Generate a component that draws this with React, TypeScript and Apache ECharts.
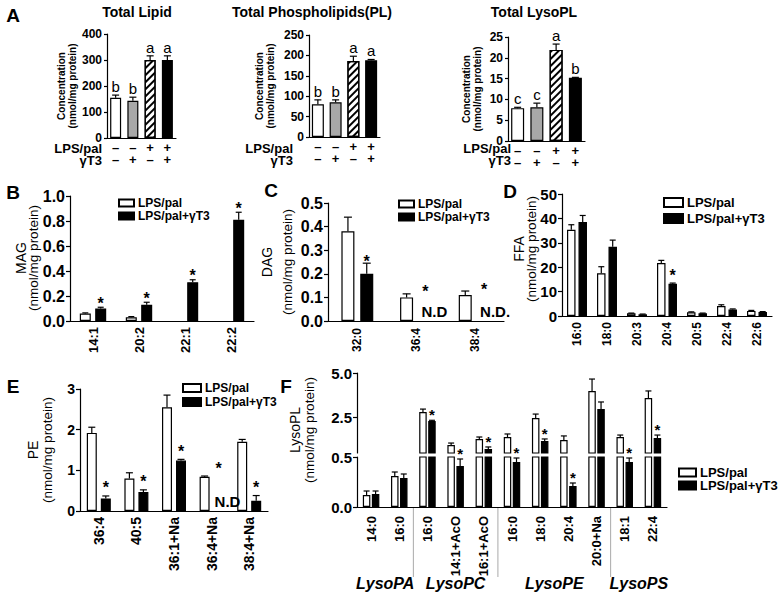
import React, { useEffect, useRef } from 'react';
import * as echarts from 'echarts';

const FONT = '"Liberation Sans", Arial, Helvetica, sans-serif';

// ---------------- Panel A ----------------
const aRowLabels = ['LPS/pal', 'γT3'];
const aLpsRow = ['–', '–', '+', '+'];
const aT3Row = ['–', '+', '–', '+'];
const aTitles = ['Total Lipid', 'Total Phospholipids(PL)', 'Total LysoPL'];
const aGroups = ['ctrl', 'γT3', 'LPS/pal', 'LPS/pal+γT3'];
const aLipid = [155, 143, 300, 300];
const aLipidErr = [165, 157, 316, 316];
const aLipidLetters = ['b', 'b', 'a', 'a'];
const aPL = [80, 85, 186, 188];
const aPLErr = [91, 91, 198, 190];
const aPLLetters = ['b', 'b', 'a', 'a'];
const aLyso = [7.9, 8.1, 21.9, 15.2];
const aLysoErr = [8.1, 9.1, 23.3, 15.3];
const aLysoLetters = ['c', 'c', 'a', 'b'];
const aYMax = [400, 250, 25];
const aYStep = [100, 50, 5];

const legendNames = ['LPS/pal', 'LPS/pal+γT3'];
const unitText = '(nmol/mg protein)';

// ---------------- Panel B (MAG) ----------------
const bCats = ['14:1', '20:2', '22:1', '22:2'];
const bPal = [0.06, 0.03, null, null];
const bPalErr = [0.065, 0.035, null, null];
const bT3 = [0.1, 0.13, 0.31, 0.81];
const bT3Err = [0.11, 0.15, 0.33, 0.87];
const bStar = [true, true, true, true];

// ---------------- Panel C (DAG) ----------------
const cCats = ['32:0', '36:4', '38:4'];
const cPal = [0.38, 0.1, 0.11];
const cPalErr = [0.44, 0.115, 0.127];
const cT3 = [0.2, null, null];
const cT3Err = [0.245, null, null];
const cStar = [true, true, true];
const cND = [null, 'N.D', 'N.D.'];

// ---------------- Panel D (FFA) ----------------
const dCats = ['16:0', '18:0', '20:3', '20:4', '20:5', '22:4', '22:6'];
const dPal = [35.3, 17.5, 1.1, 21.7, 1.5, 4.1, 2.1];
const dPalErr = [37.4, 20.2, 1.2, 22.8, 1.7, 4.6, 2.3];
const dT3 = [38.5, 28.4, 0.7, 13.2, 1.1, 2.7, 1.6];
const dT3Err = [41.2, 31.1, 0.8, 13.5, 1.2, 2.9, 1.8];
const dStar = [false, false, false, true, false, false, false];

// ---------------- Panel E (PE) ----------------
const eCats = ['36:4', '40:5', '36:1+Na', '36:4+Na', '38:4+Na'];
const ePal = [1.92, 0.8, 2.55, 0.84, 1.7];
const ePalErr = [2.06, 0.94, 2.85, 0.86, 1.76];
const eT3 = [0.31, 0.47, 1.24, null, 0.25];
const eT3Err = [0.37, 0.52, 1.27, null, 0.38];
const eStar = [true, true, true, true, true];
const eND = [null, null, null, 'N.D', null];

// ---------------- Panel F (LysoPL, broken axis) ----------------
const fCats = ['14:0', '16:0', '16:0', '14:1+AcO', '16:1+AcO', '16:0', '18:0', '20:4', '20:0+Na', '18:1', '22:4'];
const fGroupOf = ['LysoPA', 'LysoPA', 'LysoPC', 'LysoPC', 'LysoPC', 'LysoPE', 'LysoPE', 'LysoPE', 'LysoPE', 'LysoPS', 'LysoPS'];
const fGroups = ['LysoPA', 'LysoPC', 'LysoPE', 'LysoPS'];
const fPal = [0.12, 0.31, 2.81, 0.95, 1.29, 1.4, 2.47, 1.23, 3.99, 1.4, 3.59];
const fPalErr = [0.16, 0.35, 2.97, 1.06, 1.4, 1.57, 2.69, 1.46, 4.66, 1.51, 3.99];
const fT3 = [0.13, 0.29, 2.3, 0.41, 0.72, 0.45, 1.17, 0.21, 2.97, 0.45, 1.34];
const fT3Err = [0.16, 0.33, 2.34, 0.48, 0.84, 0.49, 1.29, 0.24, 3.37, 0.49, 1.51];
const fStar = [false, false, true, true, true, true, true, true, false, true, true];
const fBreak = 0.5;
const fLowerTicks = [0, 0.5];
const fUpperTicks = [2.5, 5.0];

// ---------------------------------------------------------------
type Item = {
  cat: number; val: number | null; err: number | null; dx: number; cap: number;
  text?: string; anchor?: number; tdx?: number; gap?: number; size?: number;
  weight?: string; align?: string;
};

function annotSeries(gi: number, items: Item[]) {
  return {
    type: 'custom',
    xAxisIndex: gi,
    yAxisIndex: gi,
    silent: true,
    z: 10,
    data: items.map((it) => [it.cat, it.err ?? it.val ?? it.anchor ?? 0]),
    renderItem: (params: any, api: any) => {
      const it = items[params.dataIndex];
      const cx = api.coord([it.cat, 0])[0] + it.dx;
      const children: any[] = [];
      if (it.val != null && it.err != null) {
        const y0 = api.coord([it.cat, it.val])[1];
        const y1 = api.coord([it.cat, it.err])[1];
        children.push({ type: 'line', shape: { x1: cx, y1: y0, x2: cx, y2: y1 }, style: { stroke: '#000', lineWidth: 1.2 } });
        children.push({ type: 'line', shape: { x1: cx - it.cap, y1: y1, x2: cx + it.cap, y2: y1 }, style: { stroke: '#000', lineWidth: 1.2 } });
      }
      if (it.text) {
        const ya = api.coord([it.cat, it.anchor ?? 0])[1];
        children.push({
          type: 'text',
          x: cx + (it.tdx ?? 0),
          y: ya - (it.gap ?? 1),
          style: {
            text: it.text, fill: '#000', fontFamily: FONT, fontSize: it.size ?? 16,
            fontWeight: it.weight ?? 'bold', align: it.align ?? 'center', verticalAlign: 'bottom',
          },
        });
      }
      return { type: 'group', children };
    },
  };
}

function pairItems(cfg: any): Item[] {
  const items: Item[] = [];
  const keepBar = cfg.keepBar ?? (() => true);
  const keepA = cfg.keepAnchor ?? (() => true);
  cfg.pal.forEach((v: number | null, i: number) => {
    if (v != null && keepBar(v)) items.push({ cat: i, val: v, err: cfg.palErr[i], dx: -cfg.d, cap: cfg.cap });
    const b = cfg.t3[i];
    if (b != null && keepBar(b)) items.push({ cat: i, val: b, err: cfg.t3Err[i], dx: cfg.d, cap: cfg.cap });
    if (cfg.star[i]) {
      const anchor = cfg.t3Err[i] ?? cfg.palErr[i] ?? 0;
      if (keepA(anchor)) items.push({ cat: i, val: null, err: null, dx: cfg.d, cap: 0, text: '*', anchor, size: cfg.starSize, gap: cfg.starGap });
    }
    const nd = cfg.nd ? cfg.nd[i] : null;
    if (nd && keepA(0)) items.push({ cat: i, val: null, err: null, dx: cfg.d, cap: 0, text: nd, anchor: 0, size: cfg.ndSize, align: 'left', tdx: cfg.ndDx, gap: 2 });
  });
  return items;
}

function pairBars(gi: number, pal: any[], t3: any[], bw: number, gap: string, filter?: (v: number) => boolean) {
  const f = (arr: any[]) => arr.map((v) => (v == null || (filter && !filter(v)) ? '-' : v));
  return [
    { type: 'bar', name: legendNames[0], xAxisIndex: gi, yAxisIndex: gi, data: f(pal), barWidth: bw, barGap: gap, silent: true, clip: true,
      itemStyle: { color: '#ffffff', borderColor: '#000', borderWidth: 1.2 } },
    { type: 'bar', name: legendNames[1], xAxisIndex: gi, yAxisIndex: gi, data: f(t3), barWidth: bw, barGap: gap, silent: true, clip: true,
      itemStyle: { color: '#000000', borderColor: '#000', borderWidth: 1.2 } },
  ];
}

const axisLine = { show: true, onZero: false, lineStyle: { color: '#000', width: 1.2 } };

function catX(gi: number, data: string[], label: any, show = true) {
  return {
    type: 'category', gridIndex: gi, data, show,
    axisLine, axisTick: { show: false }, splitLine: { show: false },
    axisLabel: { color: '#000', fontFamily: FONT, fontWeight: 'bold', interval: 0, ...label },
  };
}

function valY(gi: number, min: number, max: number, interval: number | undefined, size: number, dec: number, extra: any = {}) {
  return {
    type: 'value', gridIndex: gi, min, max, interval,
    axisLine, splitLine: { show: false },
    axisTick: { show: true, length: 4, lineStyle: { color: '#000', width: 1.2 } },
    axisLabel: { color: '#000', fontFamily: FONT, fontWeight: 'bold', fontSize: size, margin: 5, formatter: (v: number) => v.toFixed(dec) },
    nameLocation: 'middle', nameRotate: 90,
    ...extra,
  };
}

const hatch = {
  symbol: 'rect', symbolSize: 1, color: '#000', backgroundColor: '#ffffff',
  dashArrayX: [1, 0], dashArrayY: [2, 2.5], rotation: -Math.PI / 4,
};
const aFills = ['#ffffff', '#a8a8a8', '#ffffff', '#000000'];

function legendAt(left: number, top: number, w: number, h: number, gap: number, fs: number) {
  return {
    left, top, orient: 'vertical', itemWidth: w, itemHeight: h, itemGap: gap, icon: 'rect',
    selectedMode: false, padding: 0, data: legendNames,
    textStyle: { fontFamily: FONT, fontWeight: 'bold', fontSize: fs, color: '#000', padding: [0, 0, 0, -1] },
  };
}

function buildOption() {
  const grids = [
    { left: 107, top: 34, width: 69, height: 104 },
    { left: 309, top: 35, width: 71, height: 102 },
    { left: 508, top: 37, width: 77, height: 104 },
    { left: 70, top: 196, width: 184, height: 125 },
    { left: 328, top: 203, width: 176, height: 118 },
    { left: 562, top: 194, width: 210, height: 122 },
    { left: 80, top: 389, width: 188, height: 122 },
    { left: 357, top: 457, width: 310, height: 50 },
    { left: 357, top: 373, width: 310, height: 80 },
  ];

  const aData = [aLipid, aPL, aLyso];
  const aErr = [aLipidErr, aPLErr, aLysoErr];
  const aLetters = [aLipidLetters, aPLLetters, aLysoLetters];
  const aBw = [11, 12, 13];
  const aNameGap = [26, 33, 25];

  const xAxis: any[] = [];
  const yAxis: any[] = [];
  const series: any[] = [];

  for (let k = 0; k < 3; k++) {
    xAxis.push(catX(k, aGroups, {
      fontSize: 13, lineHeight: 12, margin: 3,
      formatter: (_v: string, i: number) => `${aLpsRow[i]}\n${aT3Row[i]}`,
    }));
    yAxis.push(valY(k, 0, aYMax[k], aYStep[k], 12, 0, {
      name: 'Concentration\n(nmol/mg protein)', nameGap: aNameGap[k],
      nameTextStyle: { color: '#000', fontFamily: FONT, fontWeight: 'bold', fontSize: 10, lineHeight: 11 },
      axisTick: { show: true, length: 3, lineStyle: { color: '#000', width: 1.2 } },
    }));
    series.push({
      type: 'bar', name: aTitles[k], xAxisIndex: k, yAxisIndex: k, barWidth: aBw[k], silent: true,
      itemStyle: { borderColor: '#000', borderWidth: 1.2 },
      data: aData[k].map((v, i) => ({ value: v, itemStyle: { color: aFills[i], ...(i === 2 ? { decal: hatch } : {}) } })),
    });
    series.push(annotSeries(k, aData[k].map((v, i) => ({
      cat: i, val: v, err: aErr[k][i], dx: 0, cap: 3.5, text: aLetters[k][i], anchor: aErr[k][i],
      size: 15, weight: 'normal', gap: 1,
    }))));
  }

  // B
  xAxis.push(catX(3, bCats, { rotate: 90, fontSize: 13, margin: 6 }));
  yAxis.push(valY(3, 0, 1, 0.2, 16, 1));
  series.push(...pairBars(3, bPal, bT3, 11, '40%'));
  series.push(annotSeries(3, pairItems({ pal: bPal, palErr: bPalErr, t3: bT3, t3Err: bT3Err, star: bStar, d: 7.7, cap: 3, starSize: 16, starGap: -4 })));

  // C
  xAxis.push(catX(4, cCats, { rotate: 90, fontSize: 12, margin: 7 }));
  yAxis.push(valY(4, 0, 0.5, 0.1, 16, 1));
  series.push(...pairBars(4, cPal, cT3, 13, '45%'));
  series.push(annotSeries(4, pairItems({ pal: cPal, palErr: cPalErr, t3: cT3, t3Err: cT3Err, star: cStar, nd: cND, d: 9.4, cap: 4, starSize: 16, starGap: -6, ndSize: 15, ndDx: -4 })));

  // D
  xAxis.push(catX(5, dCats, { rotate: 90, fontSize: 12, margin: 6 }));
  yAxis.push(valY(5, 0, 50, 10, 15, 0));
  series.push(...pairBars(5, dPal, dT3, 8.5, '35%'));
  series.push(annotSeries(5, pairItems({ pal: dPal, palErr: dPalErr, t3: dT3, t3Err: dT3Err, star: dStar, d: 5.7, cap: 3, starSize: 16, starGap: 0 })));

  // E
  xAxis.push(catX(6, eCats, { rotate: 90, fontSize: 14, margin: 6 }));
  yAxis.push(valY(6, 0, 3, 1, 14, 0));
  series.push(...pairBars(6, ePal, eT3, 10, '40%'));
  series.push(annotSeries(6, pairItems({ pal: ePal, palErr: ePalErr, t3: eT3, t3Err: eT3Err, star: eStar, nd: eND, d: 7, cap: 3.5, starSize: 16, starGap: 0, ndSize: 15, ndDx: -4 })));

  // F lower (0 - 0.5) and upper (0.5 - 5)
  const fKeys = fCats.map((c, i) => `${fGroupOf[i]}|${c}`);
  xAxis.push(catX(7, fKeys, { rotate: 90, fontSize: 13, margin: 9, formatter: (v: string) => v.split('|')[1] }));
  xAxis.push(catX(8, fKeys, {}, false));
  yAxis.push(valY(7, fLowerTicks[0], fBreak, fBreak, 15, 1));
  yAxis.push(valY(8, fBreak, fUpperTicks[1], undefined, 15, 1, {
    axisLabel: { color: '#000', fontFamily: FONT, fontWeight: 'bold', fontSize: 15, margin: 5, customValues: fUpperTicks, formatter: (v: number) => v.toFixed(1) },
    axisTick: { show: true, length: 4, customValues: fUpperTicks, lineStyle: { color: '#000', width: 1.2 } },
  }));
  series.push(...pairBars(7, fPal, fT3, 7.5, '20%'));
  series.push(...pairBars(8, fPal, fT3, 7.5, '20%', (v) => v > fBreak));
  const fBase = { pal: fPal, palErr: fPalErr, t3: fT3, t3Err: fT3Err, star: fStar, d: 4.5, cap: 3, starSize: 15, starGap: -2 };
  series.push(annotSeries(7, pairItems({ ...fBase, keepBar: (v: number) => v <= fBreak, keepAnchor: (v: number) => v <= fBreak })));
  series.push(annotSeries(8, pairItems({ ...fBase, keepBar: (v: number) => v > fBreak, keepAnchor: (v: number) => v > fBreak })));

  return {
    animation: false,
    backgroundColor: '#ffffff',
    textStyle: { fontFamily: FONT },
    grid: grids,
    xAxis,
    yAxis,
    series,
    legend: [
      legendAt(118, 197, 15, 7, 1, 12),
      legendAt(398, 198, 15, 7, 1, 12),
      legendAt(663, 196, 19, 9, 3, 13),
      legendAt(182, 382, 18, 8, 2, 12),
      legendAt(678, 466, 17, 8, 0, 13),
    ],
  };
}

function txt(x: number, y: number, text: string, size: number, extra: any = {}) {
  return {
    type: 'text', x, y, silent: true,
    style: { text, fill: '#000', fontFamily: FONT, fontSize: size, fontWeight: 'bold', align: 'center', verticalAlign: 'middle', ...extra },
  };
}

function yTitle(x: number, y: number, title: string, lh: number) {
  return {
    type: 'text', x, y, rotation: Math.PI / 2, silent: true,
    style: {
      text: `{t|${title}}\n{s|${unitText}}`, align: 'center', verticalAlign: 'middle', fill: '#000',
      rich: {
        t: { fontSize: 14, fontFamily: FONT, fill: '#000', lineHeight: lh, align: 'center' },
        s: { fontSize: 13.5, fontFamily: FONT, fill: '#000', lineHeight: lh, align: 'center' },
      },
    },
  };
}

function buildGraphics(chart: any) {
  const g: any[] = [];
  // panel letters
  const letters: [string, number, number][] = [['A', 13, 15], ['B', 13, 192], ['C', 271, 190], ['D', 510, 191], ['E', 13, 386], ['F', 286, 386]];
  letters.forEach(([t, x, y]) => g.push(txt(x, y, t, 19)));
  // titles of panel A
  const titleX = [137, 312, 534];
  aTitles.forEach((t, i) => g.push(txt(titleX[i], 12, t, 14)));
  // row headers of panel A
  const rowRight = [102, 293, 511];
  rowRight.forEach((x) => {
    g.push(txt(x, 148, aRowLabels[0], 13, { align: 'right' }));
    g.push(txt(x, 160, aRowLabels[1], 13, { align: 'right' }));
  });
  // y titles for B-F
  g.push(yTitle(27, 258, 'MAG', 12));
  g.push(yTitle(277, 262, 'DAG', 20));
  g.push(yTitle(525, 249, 'FFA', 13));
  g.push(yTitle(40, 450, 'PE', 15));
  g.push(yTitle(302, 430, 'LysoPL', 14));
  // F group separators and labels
  const px = (i: number) => chart.convertToPixel({ xAxisIndex: 7 }, i) as number;
  let start = 0;
  fGroups.forEach((name, gi) => {
    let end = start;
    while (end + 1 < fGroupOf.length && fGroupOf[end + 1] === name) end++;
    const cx = (px(start) + px(end)) / 2;
    g.push(txt(cx, 583, name, 16, { fontStyle: 'italic' }));
    if (gi < fGroups.length - 1) {
      const sx = (px(end) + px(end + 1)) / 2;
      g.push({ type: 'line', silent: true, shape: { x1: sx, y1: 508, x2: sx, y2: 577 }, style: { stroke: '#aaaaaa', lineWidth: 1 } });
    }
    start = end + 1;
  });
  return g;
}

export default function App() {
  const ref = useRef<HTMLDivElement>(null);
  useEffect(() => {
    if (!ref.current) return;
    const chart = echarts.init(ref.current, null, { renderer: 'svg' });
    chart.setOption(buildOption() as any);
    chart.setOption({ graphic: buildGraphics(chart) } as any);
    return () => chart.dispose();
  }, []);
  return <div ref={ref} style={{ position: 'absolute', left: 0, top: 0, width: 782, height: 606, background: '#fff' }} />;
}
